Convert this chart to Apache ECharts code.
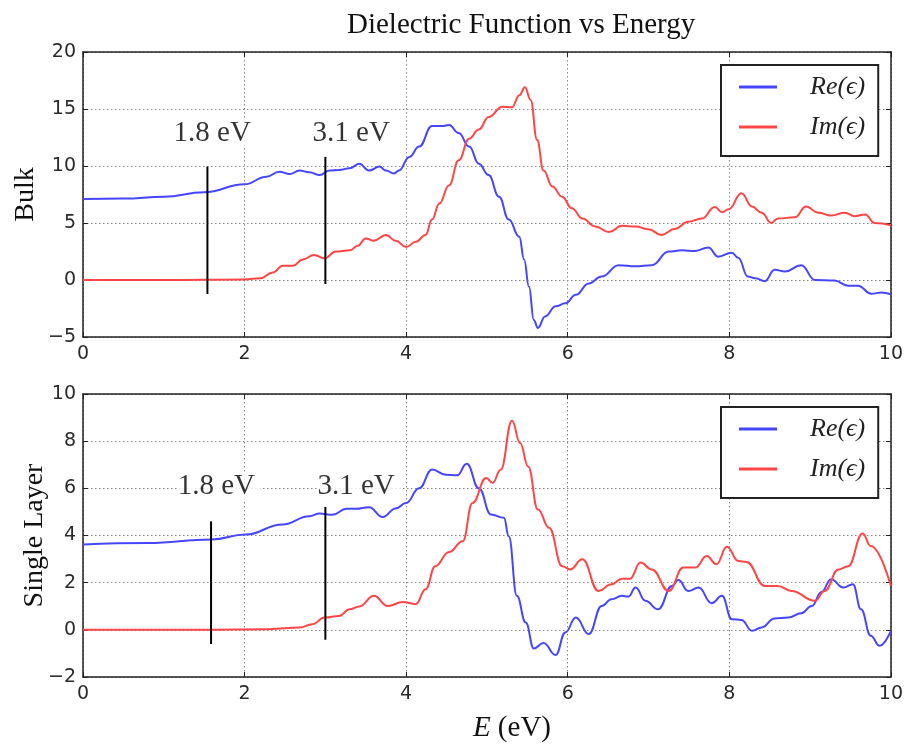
<!DOCTYPE html>
<html><head><meta charset="utf-8">
<script src="https://cdn.jsdelivr.net/npm/echarts@6/dist/echarts.min.js"></script>
<style>html,body{margin:0;padding:0;background:#fff}#c{width:906px;height:744px}</style>
</head><body><div id="c"></div>
<script>
// ---------- data ----------
const titleText = 'Dielectric Function vs Energy';
const panelNames = ['Bulk', 'Single Layer'];
const seriesNames = ['Re(\u03f5)', 'Im(\u03f5)'];
const xTicks = [0, 2, 4, 6, 8, 10];
const bulkYTicks = [-5, 0, 5, 10, 15, 20];
const singleYTicks = [-2, 0, 2, 4, 6, 8, 10];

// [energy (eV), value]
const bulkRe = [[0,7.1],[0.5,7.15],[1.0,7.3],[1.5,7.7],[2.0,8.4],[2.27,9.06],[2.43,9.5],[2.56,9.3],[2.68,9.6],[2.80,9.45],[2.93,9.2],[3.05,9.6],[3.17,9.65],[3.30,9.8],[3.42,10.2],[3.54,9.6],[3.67,9.95],[3.75,9.6],[3.85,9.35],[3.91,9.6],[4.04,10.8],[4.16,11.7],[4.32,13.5],[4.45,13.5],[4.53,13.6],[4.65,12.9],[4.78,11.7],[4.90,10.2],[5.02,9.2],[5.15,7.3],[5.27,5.3],[5.40,3.8],[5.46,1.8],[5.52,-0.6],[5.58,-3.5],[5.63,-4.2],[5.72,-3.2],[5.85,-2.3],[5.97,-2.05],[6.10,-1.3],[6.26,-0.3],[6.42,0.3],[6.63,1.3],[6.84,1.2],[7.04,1.3],[7.25,2.5],[7.41,2.6],[7.58,2.55],[7.74,2.85],[7.86,2.05],[8.03,2.4],[8.11,1.95],[8.23,0.3],[8.32,0.15],[8.44,-0.1],[8.56,0.9],[8.69,0.75],[8.89,1.3],[9.06,0],[9.30,-0.05],[9.47,-0.5],[9.59,-0.5],[9.76,-1.2],[9.88,-1.1],[10,-1.25]];
const bulkIm = [[0,0],[1.0,0],[2.0,0.05],[2.19,0.15],[2.35,0.65],[2.47,1.25],[2.60,1.25],[2.72,1.8],[2.86,2.2],[2.99,1.9],[3.13,2.5],[3.30,2.6],[3.40,3.0],[3.50,3.65],[3.60,3.45],[3.75,3.95],[3.87,3.45],[4.0,2.9],[4.12,3.35],[4.24,3.95],[4.32,5.3],[4.41,6.7],[4.53,8.3],[4.65,10.5],[4.78,12.4],[4.90,13.2],[5.02,14.3],[5.19,15.2],[5.31,15.15],[5.40,16.2],[5.47,16.9],[5.54,15.8],[5.62,12.3],[5.70,9.6],[5.81,8.2],[5.93,7.3],[6.05,6.3],[6.18,5.4],[6.34,4.7],[6.51,4.2],[6.67,4.75],[6.84,4.7],[7.0,4.45],[7.16,3.95],[7.33,4.5],[7.49,5.1],[7.66,5.4],[7.82,6.4],[7.91,5.95],[7.99,6.2],[8.15,7.6],[8.28,6.45],[8.40,5.9],[8.52,5.0],[8.60,5.4],[8.81,5.5],[8.95,6.45],[9.10,5.9],[9.26,5.65],[9.43,5.9],[9.55,5.6],[9.68,5.75],[9.80,5.0],[10,4.8]];
const singleRe = [[0,3.62],[0.8,3.68],[1.59,3.83],[2.01,4.04],[2.47,4.47],[2.80,4.82],[2.93,4.93],[3.09,4.88],[3.26,5.13],[3.38,5.13],[3.54,5.2],[3.71,4.78],[3.87,5.15],[4.0,5.38],[4.16,6.0],[4.32,6.8],[4.49,6.58],[4.63,6.55],[4.75,7.04],[4.90,6.0],[5.05,4.89],[5.21,4.75],[5.27,3.97],[5.37,1.44],[5.48,0.31],[5.58,-0.79],[5.70,-0.56],[5.85,-1.07],[5.97,-0.11],[6.10,0.52],[6.26,-0.18],[6.42,1.01],[6.54,1.3],[6.67,1.44],[6.75,1.41],[6.84,1.79],[6.96,1.23],[7.12,0.87],[7.29,1.86],[7.37,2.11],[7.49,1.65],[7.62,1.79],[7.78,1.13],[7.91,1.44],[8.03,0.45],[8.15,0.42],[8.28,-0.04],[8.40,0.1],[8.56,0.48],[8.73,0.52],[8.89,0.7],[9.02,1.01],[9.14,1.6],[9.26,2.14],[9.41,1.79],[9.53,1.93],[9.63,0.87],[9.75,-0.25],[9.86,-0.68],[10,-0.04]];
const singleIm = [[0,0],[1.5,0],[2.3,0.03],[2.68,0.1],[2.84,0.24],[2.99,0.52],[3.17,0.59],[3.30,0.87],[3.42,0.99],[3.60,1.44],[3.77,1.01],[3.96,1.18],[4.12,1.09],[4.24,1.72],[4.36,2.7],[4.53,3.3],[4.70,3.76],[4.82,5.38],[4.99,6.44],[5.07,6.23],[5.17,6.79],[5.31,8.87],[5.41,7.92],[5.51,6.93],[5.63,5.1],[5.77,4.33],[5.93,2.7],[6.03,2.56],[6.18,2.99],[6.38,1.65],[6.54,1.93],[6.67,2.17],[6.77,2.17],[6.90,2.85],[7.04,2.56],[7.25,1.65],[7.43,2.64],[7.58,2.64],[7.72,3.13],[7.84,2.78],[7.97,3.52],[8.11,2.92],[8.21,2.88],[8.44,1.86],[8.60,1.86],[8.77,1.65],[9.06,1.23],[9.18,1.65],[9.35,2.56],[9.47,2.7],[9.65,4.09],[9.75,3.55],[10,1.86]];

// vertical marker lines: x, top, bottom
const bulkMarkX = [1.54, 3.0], bulkMarkTop = [9.95, 10.8], bulkMarkBottom = [-1.23, -0.35];
const singleMarkX = [1.585, 3.0], singleMarkTop = [4.6, 5.21], singleMarkBottom = [-0.6, -0.42];
// annotation texts and their anchor positions (data coords)
const markLabels = ['1.8 eV', '3.1 eV'];
const bulkLabelX = [1.60, 3.32], bulkLabelY = [12.9, 12.9];
const singleLabelX = [1.65, 3.38], singleLabelY = [6.07, 6.07];

// ---------- chart ----------
const serif = 'Liberation Serif, Times New Roman, serif';
const sans = 'DejaVu Sans, sans-serif';
const blue = '#4646ff', red = '#ff4646';
const minus = v => String(v).replace('-', '\u2212');

function xAx(gi, pos, labels) {
  return {
    type: 'value', gridIndex: gi, position: pos,
    min: xTicks[0], max: xTicks[xTicks.length - 1], interval: xTicks[1] - xTicks[0],
    axisLine: {show: true, onZero: false, lineStyle: {color: '#222', width: 1.5}},
    axisTick: {show: true, inside: true, length: 5, lineStyle: {color: '#222', width: 1}},
    axisLabel: {show: labels, color: '#2a2a2a', fontFamily: sans, fontSize: 19, margin: 8, formatter: minus},
    splitLine: {show: labels, lineStyle: {color: '#888', type: [1.5, 2.5], width: 1}}
  };
}
function yAx(gi, pos, ticks, labels, name, gap) {
  return {
    type: 'value', gridIndex: gi, position: pos,
    min: ticks[0], max: ticks[ticks.length - 1], interval: ticks[1] - ticks[0],
    name: labels ? name : '', nameLocation: 'middle', nameGap: gap, nameRotate: 90, nameMoveOverlap: false,
    nameTextStyle: {fontFamily: serif, fontSize: 28, color: '#111', lineHeight: 30},
    axisLine: {show: true, onZero: false, lineStyle: {color: '#222', width: 1.5}},
    axisTick: {show: true, inside: true, length: 5, lineStyle: {color: '#222', width: 1}},
    axisLabel: {show: labels, color: '#2a2a2a', fontFamily: sans, fontSize: 19, margin: 7, formatter: minus},
    splitLine: {show: labels, lineStyle: {color: '#888', type: [1.5, 2.5], width: 1}}
  };
}

const xAxes = [xAx(0, 'bottom', true), xAx(0, 'top', false), xAx(1, 'bottom', true), xAx(1, 'top', false)];
xAxes[2].name = '{i|E} (eV)';
xAxes[2].nameLocation = 'middle';
xAxes[2].nameGap = 36;
xAxes[2].nameMoveOverlap = false;
xAxes[2].nameTextStyle = {fontFamily: serif, fontSize: 29, color: '#111', lineHeight: 30, padding: [0, 0, 0, 50],
  rich: {i: {fontFamily: serif, fontSize: 29, fontStyle: 'italic', color: '#111', lineHeight: 30}}};

const yAxes = [yAx(0, 'left', bulkYTicks, true, panelNames[0], 42), yAx(0, 'right', bulkYTicks, false),
               yAx(1, 'left', singleYTicks, true, panelNames[1], 33), yAx(1, 'right', singleYTicks, false)];

function curve(name, data, color, xi, yi) {
  return {type: 'line', name, data, xAxisIndex: xi, yAxisIndex: yi, showSymbol: false, symbol: 'none',
    smooth: 0.45, smoothMonotone: 'x', lineStyle: {color, width: 2}, itemStyle: {color}, z: 2, silent: true};
}
function marks(xs, tops, bots, xi, yi) {
  return xs.map((x, i) => ({type: 'line', data: [[x, tops[i]], [x, bots[i]]], xAxisIndex: xi, yAxisIndex: yi,
    showSymbol: false, symbol: 'none', lineStyle: {color: '#000', width: 2}, z: 3, silent: true}));
}
function annot(xs, ys, xi, yi) {
  return {type: 'scatter', xAxisIndex: xi, yAxisIndex: yi, symbolSize: 0, z: 4, silent: true,
    data: xs.map((x, i) => ({value: [x, ys[i]], name: markLabels[i]})),
    label: {show: true, position: 'inside', formatter: p => p.name, fontFamily: serif, fontSize: 29, color: '#000',
      backgroundColor: '#fff', padding: [0, 6, 0, 0], offset: [3, 0]}};
}
function legend(top) {
  return {show: true, orient: 'vertical', left: 721, top, data: seriesNames,
    icon: 'rect', itemWidth: 38, itemHeight: 3, itemGap: 10,
    padding: [7, 13, 14, 18], borderColor: '#222', borderWidth: 2, backgroundColor: '#fff',
    textStyle: {fontFamily: serif, fontStyle: 'italic', fontSize: 26, color: '#222', lineHeight: 30, padding: [0, 0, 0, 28]}};
}

const option = {
  backgroundColor: '#fff',
  animation: false,
  title: {text: titleText, left: 342, top: 6, textStyle: {fontFamily: serif, fontSize: 29, fontWeight: 'normal', color: '#111'}},
  legend: [legend(65), legend(407)],
  grid: [{left: 83, top: 52, width: 810, height: 285}, {left: 83, top: 394, width: 810, height: 284}],
  xAxis: xAxes,
  yAxis: yAxes,
  series: [
    curve(seriesNames[0], bulkRe, blue, 0, 0),
    curve(seriesNames[1], bulkIm, red, 0, 0),
    curve(seriesNames[0], singleRe, blue, 2, 2),
    curve(seriesNames[1], singleIm, red, 2, 2),
    ...marks(bulkMarkX, bulkMarkTop, bulkMarkBottom, 0, 0),
    ...marks(singleMarkX, singleMarkTop, singleMarkBottom, 2, 2),
    annot(bulkLabelX, bulkLabelY, 0, 0),
    annot(singleLabelX, singleLabelY, 2, 2)
  ]
};
const chart = echarts.init(document.getElementById('c'), null, {renderer: 'canvas'});
chart.setOption(option);
</script></body></html>
